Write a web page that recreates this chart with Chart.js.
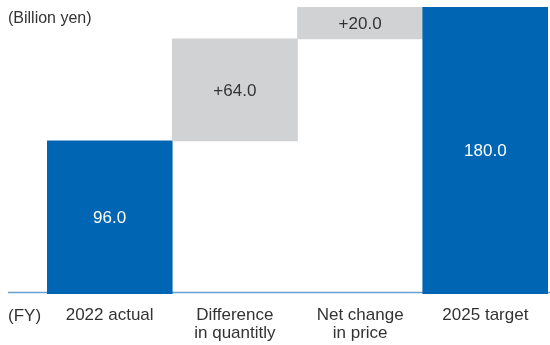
<!DOCTYPE html>
<html>
<head>
<meta charset="utf-8">
<script src="https://cdn.jsdelivr.net/npm/chart.js@4"></script>
<style>
  html, body { margin: 0; padding: 0; background: #fff; }
  #wrap { width: 550px; height: 345px; }
</style>
</head>
<body>
<div id="wrap"><canvas id="chart"></canvas></div>
<script>
// ==========================================
// DATA
// ==========================================
const categories = [['2022 actual'], ['Difference', 'in quantitly'], ['Net change', 'in price'], ['2025 target']];
const barStart   = [0, 96, 160, 0];
const barEnd     = [96, 160, 180, 180];
const isChange   = [false, true, true, false];   // grey step bars vs blue totals

const BLUE = '#0066b3';
const GREY = '#d1d2d4';
const FONT = '"Liberation Sans", Arial, sans-serif';

function labelFor(i) {
    const v = barEnd[i] - barStart[i];
    return (isChange[i] ? '+' : '') + v.toFixed(1);
}

// axis line + unit notes + labels inside bars
const decor = {
    id: 'decor',
    beforeDatasetsDraw(chart) {
        const ctx = chart.ctx;
        const y = chart.scales.y.getPixelForValue(0) - 1.5;
        ctx.save();
        ctx.strokeStyle = '#6a9fd4';
        ctx.lineWidth = 1.5;
        ctx.beginPath();
        ctx.moveTo(8, y);
        ctx.lineTo(550, y);
        ctx.stroke();
        ctx.restore();
    },
    afterDatasetsDraw(chart) {
        const ctx = chart.ctx;
        const meta = chart.getDatasetMeta(0);
        ctx.save();
        ctx.textAlign = 'center';
        ctx.textBaseline = 'middle';
        ctx.font = '17px ' + FONT;
        meta.data.forEach((bar, i) => {
            const p = bar.getProps(['x', 'y', 'base'], true);
            ctx.fillStyle = isChange[i] ? '#333333' : '#ffffff';
            ctx.fillText(labelFor(i), p.x, (p.y + p.base) / 2 + 1);
        });
        ctx.textAlign = 'left';
        ctx.textBaseline = 'alphabetic';
        ctx.fillStyle = '#333333';
        ctx.font = '16px ' + FONT;
        ctx.fillText('(Billion yen)', 8, 23);
        ctx.font = '17px ' + FONT;
        ctx.fillText('(FY)', 8, 321);
        ctx.restore();
    }
};

new Chart(document.getElementById('chart'), {
    type: 'bar',
    data: {
        labels: categories,
        datasets: [{
            data: barStart.map((s, i) => [s, barEnd[i]]),
            backgroundColor: isChange.map(c => c ? GREY : BLUE),
            borderWidth: 0,
            borderSkipped: false,
            barPercentage: 1.0,
            categoryPercentage: 1.0
        }]
    },
    options: {
        responsive: true,
        maintainAspectRatio: false,
        animation: false,
        layout: { padding: { top: 7, left: 47, right: 2, bottom: 0 } },
        plugins: { legend: { display: false }, tooltip: { enabled: false } },
        scales: {
            x: {
                grid: { display: false, drawTicks: false },
                border: { display: false },
                afterFit(scale) { scale.height = 51; },
                ticks: {
                    color: '#333333',
                    padding: 13,
                    maxRotation: 0,
                    autoSkip: false,
                    font: { family: FONT, size: 17, lineHeight: 1.02 }
                }
            },
            y: { display: false, min: 0, max: 180 }
        }
    },
    plugins: [decor]
});
</script>
</body>
</html>
